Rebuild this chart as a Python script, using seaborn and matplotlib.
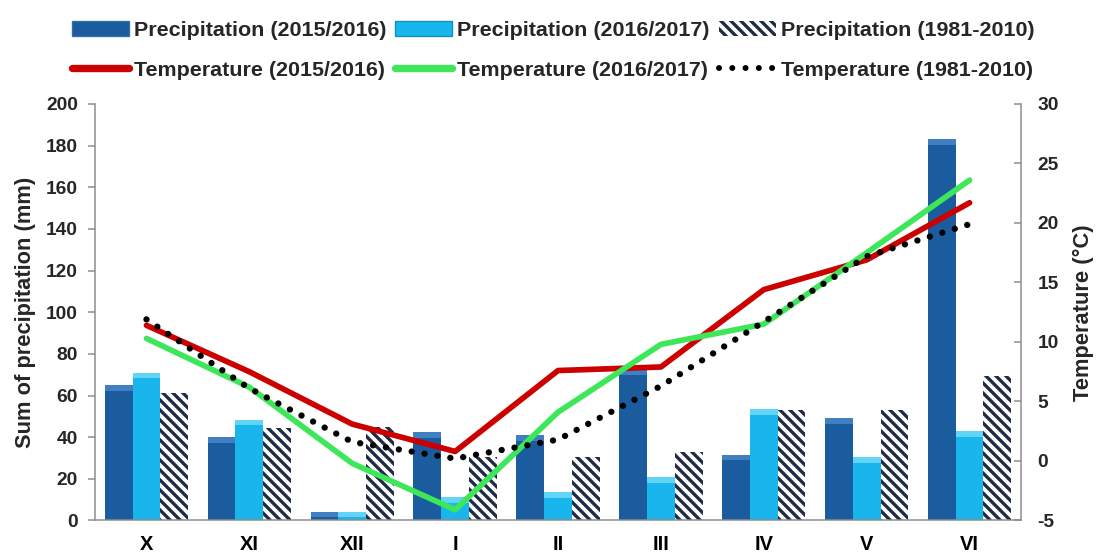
import numpy as np
import pandas as pd
import matplotlib
matplotlib.use("Agg")
import matplotlib.pyplot as plt
from matplotlib.patches import Patch
from matplotlib.lines import Line2D
import seaborn as sns

# Months of the growing season (October to June)
months = ["X", "XI", "XII", "I", "II", "III", "IV", "V", "VI"]

# Monthly precipitation sums (mm)
precip_2015_16 = [65, 40, 4.3, 42.3, 41, 72.5, 31.6, 49, 183]
precip_2016_17 = [71, 48.4, 4.3, 11.2, 13.5, 20.7, 53.4, 30.3, 42.8]
precip_1981_2010 = [61, 44.4, 44.7, 30.4, 30.3, 33, 52.9, 52.9, 69.4]

# Mean monthly air temperature (°C)
temp_2015_16 = [11.4, 7.5, 3.1, 0.8, 7.6, 7.9, 14.4, 16.9, 21.7]
temp_2016_17 = [10.3, 6.2, -0.2, -4.1, 4.1, 9.8, 11.5, 17.5, 23.6]
temp_1981_2010 = [11.9, 6.1, 1.6, 0.2, 1.8, 6.3, 11.7, 17.2, 19.9]

precip_labels = ["Precipitation (2015/2016)", "Precipitation (2016/2017)",
                 "Precipitation (1981-2010)"]
temp_labels = ["Temperature (2015/2016)", "Temperature (2016/2017)",
               "Temperature (1981-2010)"]

DARK_BLUE = "#1B5C9E"
DARK_BLUE_TOP = "#3F7FC2"
LIGHT_BLUE = "#18B6EC"
LIGHT_BLUE_TOP = "#62D4F7"
HATCH_NAVY = "#1F2B45"
RED = "#CC0000"
GREEN = "#3EE65A"
GREY = "#8C8C8C"

sns.set_theme(style="white")
plt.rcParams["font.family"] = ["Liberation Sans", "DejaVu Sans"]
plt.rcParams["font.weight"] = "bold"
plt.rcParams["hatch.linewidth"] = 2.0
plt.rcParams["axes.unicode_minus"] = False

DPI = 120
fig = plt.figure(figsize=(1096 / DPI, 552 / DPI), dpi=DPI)
ax = fig.add_axes([0.0867, 0.0571, 0.9316 - 0.0867, 0.8116 - 0.0571])

precip = pd.DataFrame({
    "month": months * 3,
    "value": precip_2015_16 + precip_2016_17 + precip_1981_2010,
    "series": [s for s in precip_labels for _ in months],
})

sns.barplot(data=precip, x="month", y="value", hue="series",
            order=months, hue_order=precip_labels,
            palette=[DARK_BLUE, LIGHT_BLUE, "white"], saturation=1,
            width=0.81, gap=0, legend=False, ax=ax, linewidth=0)

# Lighter bevel along the top of the solid bars
CAP = 2.6
for container, top_colour in zip(ax.containers[:2],
                                 [DARK_BLUE_TOP, LIGHT_BLUE_TOP]):
    for bar in container:
        h = bar.get_height()
        c = min(CAP, h * 0.6)
        ax.bar(bar.get_x(), c, width=bar.get_width(), bottom=h - c,
               align="edge", color=top_colour, linewidth=0)

# Long-term mean precipitation drawn as white bars with navy diagonal hatching
for bar in ax.containers[2]:
    bar.set_hatch("\\\\\\\\")
    bar.set_edgecolor(HATCH_NAVY)
    bar.set_linewidth(0)

ax.set_ylim(0, 200)
ax.set_yticks(np.arange(0, 201, 20))
ax.set_xlim(-0.5, len(months) - 0.5)
ax.set_xlabel("")
ax.set_ylabel("Sum of precipitation (mm)", fontsize=13.1, fontweight="bold",
              labelpad=6)

# Temperature lines on a secondary axis
ax2 = ax.twinx()
x = np.arange(len(months))
sns.lineplot(x=x, y=temp_2015_16, ax=ax2, color=RED, lw=3.4,
             solid_capstyle="round", solid_joinstyle="round")
sns.lineplot(x=x, y=temp_2016_17, ax=ax2, color=GREEN, lw=3.4,
             solid_capstyle="round", solid_joinstyle="round")
sns.lineplot(x=x, y=temp_1981_2010, ax=ax2, color="black", lw=3.8,
             linestyle=(0, (0.01, 2.05)), dash_capstyle="round")
ax2.set_ylim(-5, 30)
ax2.set_yticks(np.arange(-5, 31, 5))
ax2.set_xlim(-0.5, len(months) - 0.5)
ax2.set_ylabel("Temperature (°C)", fontsize=13.1, fontweight="bold",
               labelpad=8.4)

# Category labels centred, tick marks on the category boundaries
ax.set_xticks(x)
ax.set_xticklabels(months, fontsize=12, fontweight="bold")
ax.set_xticks(np.arange(-0.5, len(months)), minor=True)
ax.tick_params(axis="x", which="major", length=0, pad=8.5, colors="black")
ax.tick_params(axis="x", which="minor", length=4.8, width=0.9, color=GREY,
               direction="out")
ax.tick_params(axis="y", length=4.2, width=0.9, color=GREY, direction="out",
               labelsize=11.5, pad=6, left=True)
ax2.tick_params(axis="y", length=4.2, width=0.9, color=GREY, direction="in",
                labelsize=11.5, pad=10, right=True)
for lab in ax.get_yticklabels() + ax2.get_yticklabels():
    lab.set_fontweight("bold")

for a in (ax, ax2):
    a.grid(False)
    a.set_facecolor("none")
    for side in ("top", "right", "left", "bottom"):
        a.spines[side].set_visible(False)
ax.spines["left"].set_visible(True)
ax.spines["bottom"].set_visible(True)
ax2.spines["right"].set_visible(True)
for sp in (ax.spines["left"], ax.spines["bottom"], ax2.spines["right"]):
    sp.set_color(GREY)
    sp.set_linewidth(0.9)

# Legend: precipitation on the first row, temperature on the second
handles = [
    Patch(facecolor=DARK_BLUE, edgecolor="#2E6FB0", lw=0.8),
    Line2D([], [], color=RED, lw=4.4, solid_capstyle="round"),
    Patch(facecolor=LIGHT_BLUE, edgecolor="#0E8FC0", lw=0.8),
    Line2D([], [], color=GREEN, lw=4.4, solid_capstyle="round"),
    Patch(facecolor="white", edgecolor=HATCH_NAVY, hatch="\\\\\\\\", lw=0),
    Line2D([], [], color="black", lw=3.6, linestyle=(0, (0.01, 2.2)),
           dash_capstyle="round"),
]
labels = [precip_labels[0], temp_labels[0], precip_labels[1], temp_labels[1],
          precip_labels[2], temp_labels[2]]
fig.legend(handles, labels, ncol=3, loc="upper left",
           bbox_to_anchor=(0.0657, 0.962), frameon=False,
           prop={"size": 12.9, "weight": "bold"},
           handlelength=2.65, handleheight=0.7, handletextpad=0.23,
           columnspacing=0.42, labelspacing=0.95, borderpad=0,
           borderaxespad=0)

fig.savefig("out.png", dpi=DPI)
